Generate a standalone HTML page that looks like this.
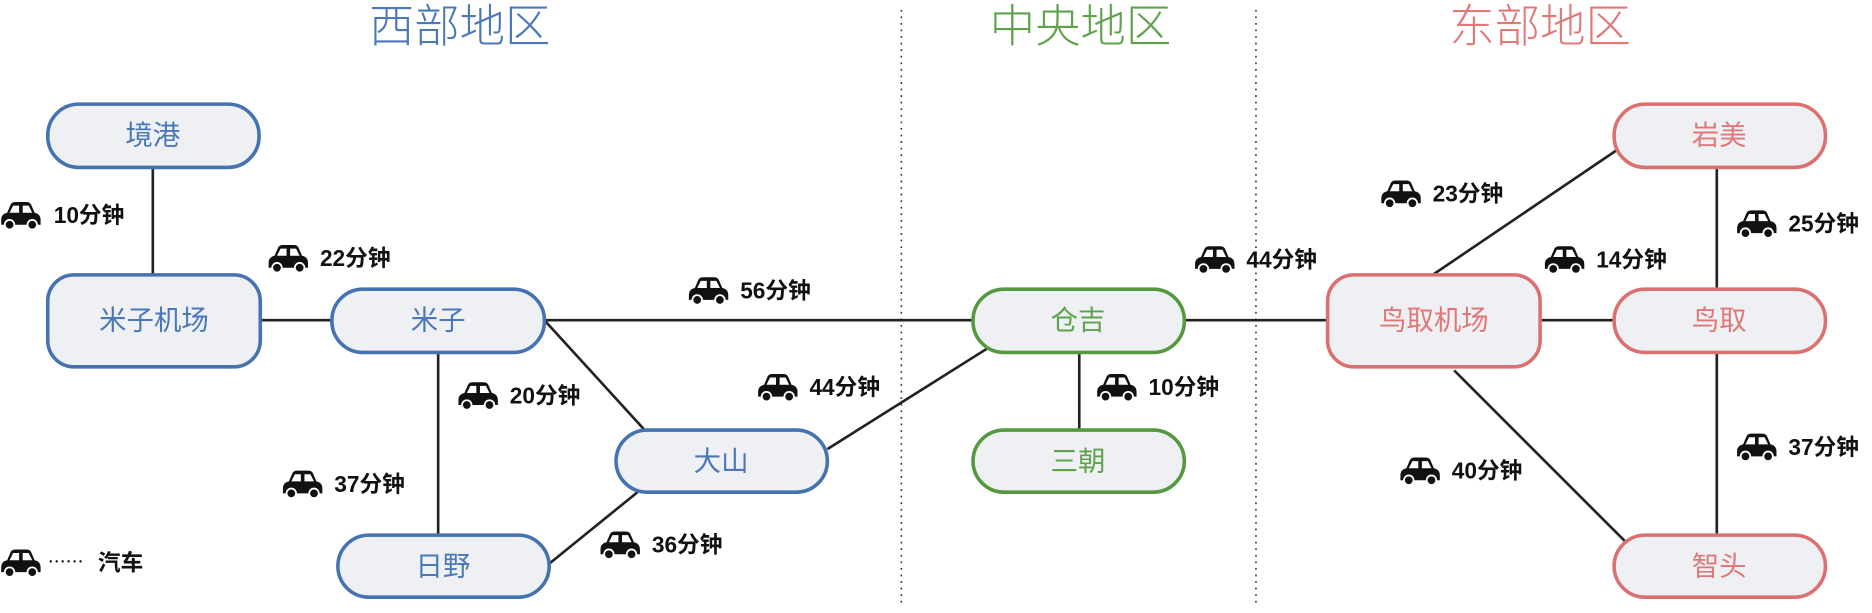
<!DOCTYPE html>
<html><head><meta charset="utf-8"><style>
html,body{margin:0;padding:0;background:#fff}
svg{display:block}
text{font-family:"Liberation Sans","Noto Sans CJK SC",sans-serif}
.n{font-size:23px;text-anchor:middle;dominant-baseline:central}
.l{font-size:19px;font-weight:bold;fill:#111;dominant-baseline:central}
.t{font-size:38px;text-anchor:middle;dominant-baseline:central;font-weight:300}
</style></head><body>
<svg width="1872" height="613" viewBox="0 0 1568 513" xmlns="http://www.w3.org/2000/svg">
<defs>
<g id="car">
<path d="M1,15 Q1,10 6,9 L9,2 Q10,0 13,0 L22,0 Q25,0 26,2 L29,9 Q34,10 34,15 L34,19 L1,19 Z" fill="#111"/>
<path d="M11,3 L16,3 L16,9 L8,9 Z M19,3 L24,3 L27,9 L19,9 Z" fill="#fff"/>
<circle cx="8" cy="19" r="4" fill="#111" stroke="#fff" stroke-width="1.5"/>
<circle cx="27" cy="19" r="4" fill="#111" stroke="#fff" stroke-width="1.5"/>
</g>
</defs>
<g stroke="#333" stroke-width="1.3" stroke-dasharray="1.5,4">
<line x1="755" y1="8" x2="755" y2="508"/>
<line x1="1052" y1="8" x2="1052" y2="508"/>
</g>
<text class="t" x="385" y="22" fill="#4a78b8">西部地区</text>
<text class="t" x="905" y="22" fill="#5ea34c">中央地区</text>
<text class="t" x="1290" y="22" fill="#e07878">东部地区</text>
<g stroke="#222" stroke-width="2.2" fill="none">
<line x1="128" y1="140" x2="128" y2="230"/>
<line x1="218" y1="268" x2="278" y2="268"/>
<line x1="456" y1="268" x2="815" y2="268"/>
<line x1="992" y1="268" x2="1112" y2="268"/>
<line x1="1290" y1="268" x2="1352" y2="268"/>
<line x1="456" y1="268" x2="540" y2="360"/>
<line x1="367" y1="295" x2="367" y2="448"/>
<line x1="460" y1="472" x2="534" y2="412"/>
<line x1="693" y1="376" x2="828" y2="291"/>
<line x1="904" y1="295" x2="904" y2="360"/>
<line x1="1200" y1="230" x2="1355" y2="125"/>
<line x1="1438" y1="140" x2="1438" y2="242"/>
<line x1="1218" y1="310" x2="1370" y2="462"/>
<line x1="1438" y1="295" x2="1438" y2="448"/>
</g>
<g fill="#eef0f3" stroke-width="3">
<g stroke="#4572b0">
<rect x="40" y="87" width="177" height="53" rx="26"/>
<rect x="40" y="230" width="178" height="77" rx="22"/>
<rect x="278" y="242" width="178" height="53" rx="26"/>
<rect x="516" y="360" width="177" height="52" rx="26"/>
<rect x="283" y="448" width="177" height="52" rx="26"/>
</g>
<g stroke="#54993f">
<rect x="815" y="242" width="177" height="53" rx="26"/>
<rect x="815" y="360" width="177" height="52" rx="26"/>
</g>
<g stroke="#db7070">
<rect x="1112" y="230" width="178" height="77" rx="22"/>
<rect x="1352" y="87" width="177" height="53" rx="26"/>
<rect x="1352" y="242" width="177" height="53" rx="26"/>
<rect x="1352" y="448" width="177" height="52" rx="26"/>
</g>
</g>
<g fill="#4a78b8">
<text class="n" x="128" y="113">境港</text>
<text class="n" x="129" y="268">米子机场</text>
<text class="n" x="367" y="268">米子</text>
<text class="n" x="604" y="386">大山</text>
<text class="n" x="371" y="474">日野</text>
</g>
<g fill="#5ea34c">
<text class="n" x="903" y="268">仓吉</text>
<text class="n" x="903" y="386">三朝</text>
</g>
<g fill="#e07878">
<text class="n" x="1201" y="268">鸟取机场</text>
<text class="n" x="1440" y="113">岩美</text>
<text class="n" x="1440" y="268">鸟取</text>
<text class="n" x="1440" y="474">智头</text>
</g>
<use href="#car" x="0" y="169"/><text class="l" x="45" y="180">10分钟</text>
<use href="#car" x="224" y="205"/><text class="l" x="268" y="216">22分钟</text>
<use href="#car" x="576" y="232"/><text class="l" x="620" y="243">56分钟</text>
<use href="#car" x="383" y="320"/><text class="l" x="427" y="331">20分钟</text>
<use href="#car" x="634" y="313"/><text class="l" x="678" y="324">44分钟</text>
<use href="#car" x="236" y="394"/><text class="l" x="280" y="405">37分钟</text>
<use href="#car" x="502" y="445"/><text class="l" x="546" y="456">36分钟</text>
<use href="#car" x="0" y="460"/><text class="l" x="40" y="471" style="font-weight:normal;font-size:15px">⋯⋯</text><text class="l" x="82" y="471">汽车</text>
<use href="#car" x="918" y="313"/><text class="l" x="962" y="324">10分钟</text>
<use href="#car" x="1000" y="206"/><text class="l" x="1044" y="217">44分钟</text>
<use href="#car" x="1156" y="151"/><text class="l" x="1200" y="162">23分钟</text>
<use href="#car" x="1293" y="206"/><text class="l" x="1337" y="217">14分钟</text>
<use href="#car" x="1454" y="176"/><text class="l" x="1498" y="187">25分钟</text>
<use href="#car" x="1454" y="363"/><text class="l" x="1498" y="374">37分钟</text>
<use href="#car" x="1172" y="383"/><text class="l" x="1216" y="394">40分钟</text>
</svg>
</body></html>
